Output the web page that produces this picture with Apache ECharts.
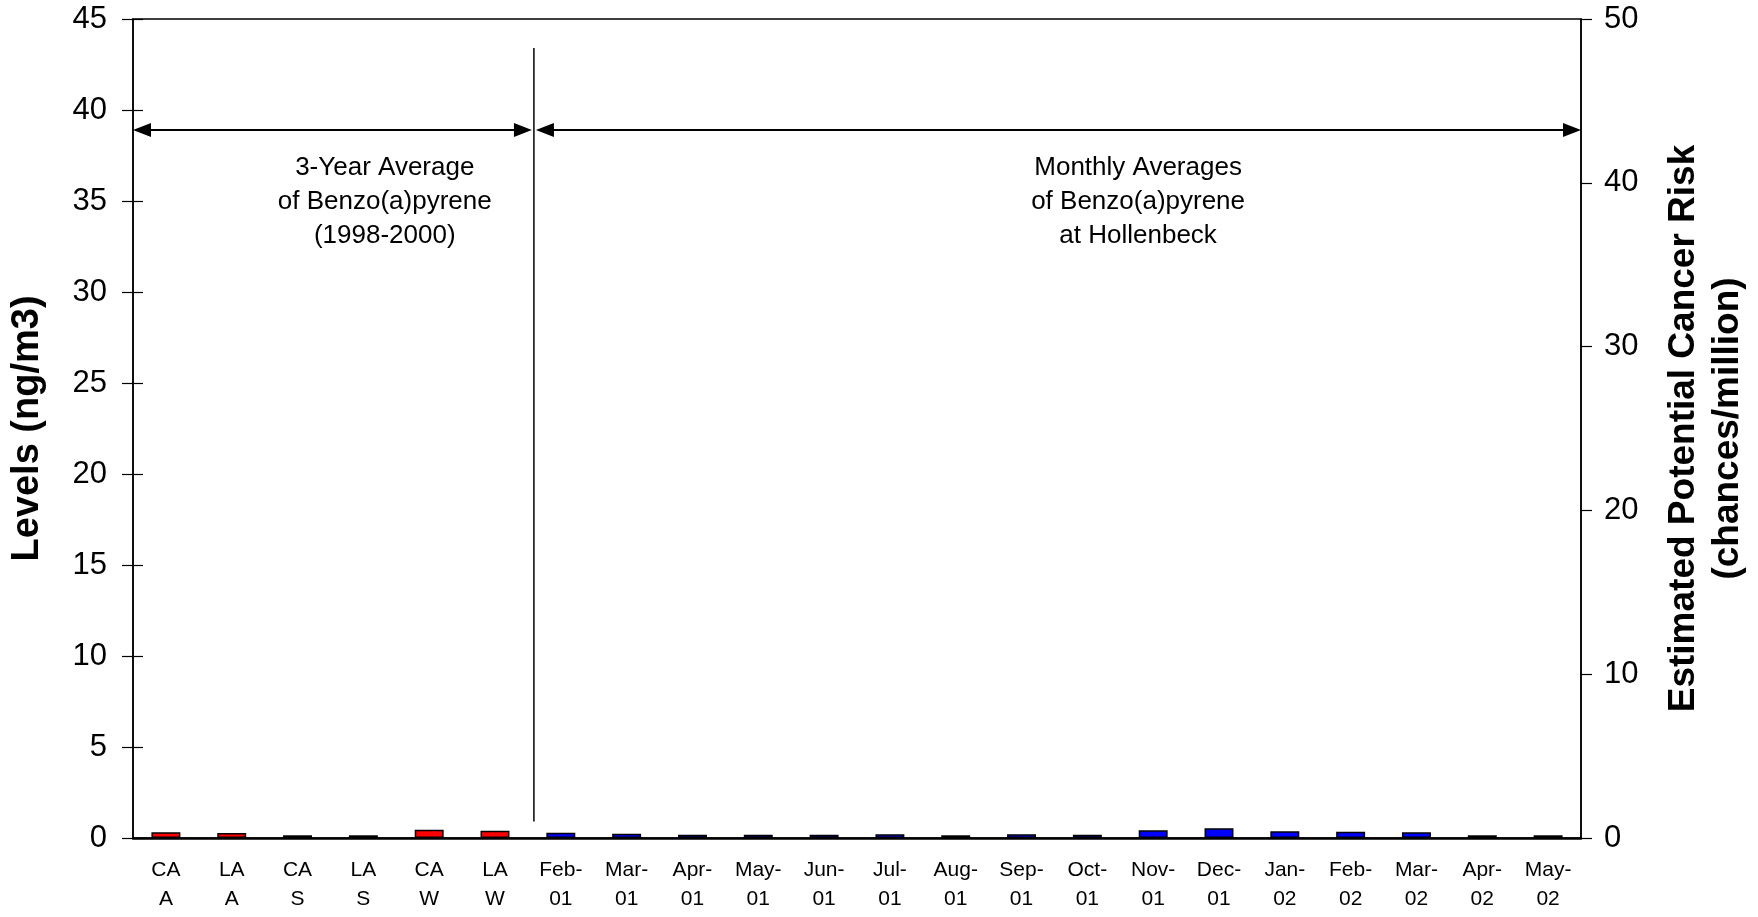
<!DOCTYPE html>
<html>
<head>
<meta charset="utf-8">
<script src="https://cdn.jsdelivr.net/npm/echarts@6/dist/echarts.min.js"></script>
<style>
html,body{margin:0;padding:0;background:#fff;}
#main{width:1758px;height:917px;}
</style>
</head>
<body>
<div id="main"></div>
<script>
const categories = ["CA\nA","LA\nA","CA\nS","LA\nS","CA\nW","LA\nW","Feb-\n01","Mar-\n01","Apr-\n01","May-\n01","Jun-\n01","Jul-\n01","Aug-\n01","Sep-\n01","Oct-\n01","Nov-\n01","Dec-\n01","Jan-\n02","Feb-\n02","Mar-\n02","Apr-\n02","May-\n02"];
const levels = [0.31,0.27,0.15,0.15,0.46,0.40,0.29,0.24,0.18,0.18,0.18,0.20,0.15,0.20,0.18,0.42,0.53,0.37,0.35,0.31,0.15,0.15];
const groupColors = ["#FF0000","#0000FF"];
const groupSize = 6;
const leftTicks = {min:0,max:45,interval:5};
const rightTicks = {min:0,max:50,interval:10};
const leftName = "Levels (ng/m3)";
const rightName = "Estimated Potential Cancer Risk\n(chances/million)";
const leftNote = "3-Year Average\nof Benzo(a)pyrene\n(1998-2000)";
const rightNote = "Monthly Averages\nof Benzo(a)pyrene\nat Hollenbeck";

const FONT = "Liberation Sans, Arial, sans-serif";
const chart = echarts.init(document.getElementById('main'));
const option = {
  animation:false,
  backgroundColor:'#fff',
  grid:{left:133,right:169,top:19,bottom:79,show:true,borderColor:'#000',borderWidth:1.5},
  xAxis:{type:'category',data:categories,
    axisLine:{lineStyle:{color:'#000',width:2.5}},
    axisTick:{show:false},
    axisLabel:{color:'#000',fontSize:21,fontFamily:FONT,lineHeight:29,margin:18,interval:0}
  },
  yAxis:[
    {type:'value',position:'left',min:leftTicks.min,max:leftTicks.max,interval:leftTicks.interval,
     name:leftName,nameLocation:'middle',nameGap:86,nameRotate:90,
     nameTextStyle:{color:'#000',fontSize:38,fontWeight:'bold',fontFamily:FONT},
     axisLine:{show:true,lineStyle:{color:'#000',width:1.5}},
     axisTick:{show:true,length:11,lineStyle:{color:'#000',width:1.2}},
     axisLabel:{color:'#000',fontSize:31,fontFamily:FONT,margin:26},
     splitLine:{show:false}},
    {type:'value',position:'right',min:rightTicks.min,max:rightTicks.max,interval:rightTicks.interval,
     name:rightName,nameLocation:'middle',nameGap:81,nameRotate:90,
     nameTextStyle:{color:'#000',fontSize:37,fontWeight:'bold',fontFamily:FONT,lineHeight:44},
     axisLine:{show:true,lineStyle:{color:'#000',width:1.5}},
     axisTick:{show:true,length:11,lineStyle:{color:'#000',width:1.2}},
     axisLabel:{color:'#000',fontSize:31,fontFamily:FONT,margin:23},
     splitLine:{show:false}},
    {type:'value',position:'left',min:leftTicks.min,max:leftTicks.max,interval:leftTicks.interval,
     axisLine:{show:false},axisLabel:{show:false},splitLine:{show:false},
     axisTick:{show:true,inside:true,length:10,lineStyle:{color:'#000',width:1.2}}}
  ],
  series:[{
    type:'bar',yAxisIndex:0,barWidth:'44%',
    data:levels.map((v,i)=>({value:v,itemStyle:{color:groupColors[i<groupSize?0:1]}})),
    itemStyle:{borderColor:'#000',borderWidth:1.5}
  }]
};
chart.setOption(option);

function px(xv,yv){return chart.convertToPixel({xAxisIndex:0,yAxisIndex:0},[xv,yv]);}
const c5 = px(groupSize-1,0), c6 = px(groupSize,0);
const divX = (c5[0]+c6[0])/2 + 6;
const left0 = px(0,0), lastC = px(categories.length-1,0);
const catW = c6[0]-c5[0];
const plotL = left0[0]-catW/2, plotR = lastC[0]+catW/2;
const arrowY = px(0,38.9)[1];
const divTop = px(0,43.4)[1], divBot = px(0,0.9)[1];
const AL=18, AH=7;
function arrowHead(tipX,dir){
  return {type:'polygon',shape:{points:[[tipX,arrowY],[tipX-dir*AL,arrowY-AH],[tipX-dir*AL,arrowY+AH]]},style:{fill:'#000'}};
}
const textY1 = px(0,37.75)[1];
const graphics = [
  {type:'line',shape:{x1:divX,y1:divTop,x2:divX,y2:divBot},style:{stroke:'#000',lineWidth:1.5}},
  {type:'line',shape:{x1:plotL+AL,y1:arrowY,x2:divX-AL,y2:arrowY},style:{stroke:'#000',lineWidth:2}},
  arrowHead(plotL,-1),arrowHead(divX-2,1),
  {type:'line',shape:{x1:divX+AL,y1:arrowY,x2:plotR-AL,y2:arrowY},style:{stroke:'#000',lineWidth:2}},
  arrowHead(divX+2,-1),arrowHead(plotR,1),
  {type:'text',x:plotL+(divX-plotL)*0.628,y:textY1,style:{text:leftNote,fill:'#000',font:'26px '+FONT,align:'center',verticalAlign:'top',lineHeight:34}},
  {type:'text',x:divX+(plotR-divX)*0.577,y:textY1,style:{text:rightNote,fill:'#000',font:'26px '+FONT,align:'center',verticalAlign:'top',lineHeight:34}}
];
chart.setOption({graphic:graphics});
</script>
</body>
</html>
